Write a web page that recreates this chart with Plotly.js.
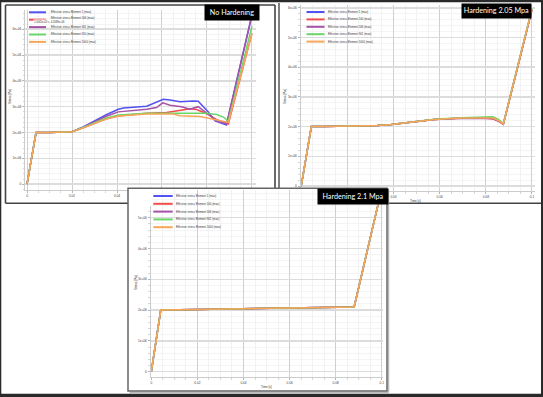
<!DOCTYPE html>
<html><head><meta charset="utf-8">
<script src="https://cdn.plot.ly/plotly-3.0.1.min.js"></script>
<style>html,body{margin:0;padding:0;background:#fff;overflow:hidden}#chart{width:543px;height:397px}</style>
</head><body><div id="chart"></div>
<script>
// ---------------- data ----------------
const panelTitles = ['No Hardening', 'Hardening 2.05 Mpa', 'Hardening 2.1 Mpa'];
const legendNames1 = ['Effective stress Element 1 (max)', 'Effective stress Element 506 (max)', 'Effective stress Element 901 (max)', 'Effective stress Element 910 (max)', 'Effective stress Element 1000 (max)'];
const legendNames23 = ['Effective stress Element 1 (max)', 'Effective stress Element 100 (max)', 'Effective stress Element 506 (max)', 'Effective stress Element 901 (max)', 'Effective stress Element 1000 (max)'];
const seriesColors = ['#5252f2', '#f24c4c', '#a552a8', '#6ad66a', '#f8a657'];

const timeTickVals = [0, 0.02, 0.04, 0.06, 0.08, 0.1];
const timeTickText = ['0', '0.02', '0.04', '0.06', '0.08', '0.1'];
// labels that stay visible where the panels overlap
const timeTickText1 = ['0', '0.02', '0.04', '', '', ''];
const timeTickText2 = ['', '', '0.04', '0.06', '0.08', '0.1'];
const stressTickVals = [0, 1e6, 2e6, 3e6, 4e6, 5e6, 6e6];
const stressTickText = ['0', '1e+06', '2e+06', '3e+06', '4e+06', '5e+06', '6e+06'];

// No hardening
const nhTimeE1 = [0, 0.004, 0.01, 0.02, 0.025, 0.03, 0.035, 0.0406, 0.0429, 0.0532, 0.0561, 0.0606, 0.0636, 0.068, 0.0739, 0.0761, 0.0806, 0.0836, 0.0887, 0.1];
const nhStressE1 = [0, 2.0e6, 2.0e6, 2.03e6, 2.22e6, 2.45e6, 2.68e6, 2.9e6, 2.95e6, 3.02e6, 3.13e6, 3.29e6, 3.26e6, 3.19e6, 3.22e6, 3.21e6, 2.8e6, 2.45e6, 2.29e6, 6.55e6];
const nhTimeE506 = [0, 0.004, 0.01, 0.02, 0.025, 0.03, 0.035, 0.0406, 0.0532, 0.0621, 0.068, 0.0724, 0.0754, 0.0806, 0.0843, 0.0895, 0.1];
const nhStressE506 = [0, 2.0e6, 2.0e6, 2.03e6, 2.18e6, 2.35e6, 2.52e6, 2.64e6, 2.75e6, 2.78e6, 2.86e6, 2.92e6, 2.89e6, 2.7e6, 2.5e6, 2.33e6, 5.84e6];
const nhTimeE901 = [0, 0.004, 0.01, 0.02, 0.025, 0.03, 0.035, 0.0406, 0.0532, 0.0576, 0.0603, 0.0636, 0.0687, 0.0724, 0.0761, 0.0806, 0.0843, 0.0887, 0.1];
const nhStressE901 = [0, 2.0e6, 2.0e6, 2.03e6, 2.21e6, 2.42e6, 2.62e6, 2.8e6, 2.9e6, 2.97e6, 3.15e6, 3.06e6, 3.0e6, 2.9e6, 3.0e6, 2.7e6, 2.45e6, 2.33e6, 6.55e6];
const nhTimeE910 = [0, 0.004, 0.01, 0.02, 0.025, 0.03, 0.035, 0.0406, 0.0532, 0.0621, 0.0799, 0.0843, 0.0873, 0.0895, 0.1];
const nhStressE910 = [0, 2.0e6, 2.0e6, 2.03e6, 2.2e6, 2.38e6, 2.55e6, 2.68e6, 2.75e6, 2.75e6, 2.75e6, 2.7e6, 2.6e6, 2.44e6, 6.12e6];
const nhTimeE1000 = [0, 0.004, 0.01, 0.02, 0.025, 0.03, 0.035, 0.0406, 0.0532, 0.065, 0.068, 0.0769, 0.0828, 0.0895, 0.1];
const nhStressE1000 = [0, 2.0e6, 2.0e6, 2.03e6, 2.18e6, 2.35e6, 2.52e6, 2.64e6, 2.72e6, 2.72e6, 2.65e6, 2.62e6, 2.52e6, 2.39e6, 5.84e6];

// Hardening 2.05 MPa
const h205Time = [0, 0.0044, 0.01, 0.02, 0.027, 0.033, 0.039, 0.044, 0.049, 0.0577, 0.0692, 0.0793, 0.083, 0.0855, 0.0876, 0.1];
const h205StressE1 = [0, 2.0e6, 2.0e6, 2.01e6, 2.02e6, 2.04e6, 2.07e6, 2.12e6, 2.17e6, 2.24e6, 2.29e6, 2.30e6, 2.29e6, 2.21e6, 2.09e6, 5.95e6];
const h205StressE100 = [0, 2.0e6, 2.0e6, 2.01e6, 2.02e6, 2.04e6, 2.07e6, 2.12e6, 2.17e6, 2.24e6, 2.28e6, 2.29e6, 2.26e6, 2.18e6, 2.08e6, 5.93e6];
const h205StressE506 = [0, 2.0e6, 2.0e6, 2.01e6, 2.02e6, 2.04e6, 2.07e6, 2.12e6, 2.17e6, 2.24e6, 2.28e6, 2.29e6, 2.27e6, 2.19e6, 2.08e6, 5.93e6];
const h205StressE901 = [0, 2.0e6, 2.0e6, 2.01e6, 2.02e6, 2.04e6, 2.07e6, 2.12e6, 2.17e6, 2.25e6, 2.30e6, 2.32e6, 2.33e6, 2.24e6, 2.10e6, 5.98e6];
const h205StressE1000 = [0, 2.0e6, 2.0e6, 2.01e6, 2.02e6, 2.04e6, 2.07e6, 2.12e6, 2.17e6, 2.24e6, 2.29e6, 2.30e6, 2.29e6, 2.20e6, 2.09e6, 5.95e6];

// Hardening 2.1 MPa
const h21Time = [0, 0.0041, 0.02, 0.04, 0.06, 0.08, 0.088, 0.1];
const h21StressE1 = [0, 2.0e6, 2.02e6, 2.04e6, 2.06e6, 2.08e6, 2.1e6, 5.95e6];
const h21StressE100 = [0, 2.0e6, 2.02e6, 2.04e6, 2.06e6, 2.08e6, 2.1e6, 5.95e6];
const h21StressE506 = [0, 2.0e6, 2.02e6, 2.04e6, 2.06e6, 2.08e6, 2.1e6, 5.95e6];
const h21StressE901 = [0, 2.0e6, 2.02e6, 2.04e6, 2.06e6, 2.08e6, 2.1e6, 5.95e6];
const h21StressE1000 = [0, 2.0e6, 2.02e6, 2.04e6, 2.06e6, 2.08e6, 2.1e6, 5.95e6];

// ---------------- layout helpers ----------------
const W = 543, H = 397;
const P = x => x / W, Q = y => 1 - y / H;
const FONT = 'Liberation Sans, Arial, sans-serif';

function timeAxis(px0, px1, r, anchor, labels) {
  return {
    domain: [P(px0), P(px1)], range: r, anchor: anchor,
    tickmode: 'array', tickvals: timeTickVals, ticktext: labels,
    ticks: 'outside', ticklen: 2, tickwidth: 0.8, tickcolor: '#aaaaaa',
    showline: true, linecolor: '#cccccc', linewidth: 1,
    showgrid: true, gridcolor: '#d0d0d0', gridwidth: 1, zeroline: false,
    tickfont: {family: FONT, size: 3.2, color: '#444'},
    minor: {dtick: 0.005, tick0: 0, ticks: 'outside', ticklen: 1.5, tickwidth: 0.6, tickcolor: '#bbbbbb',
            showgrid: true, gridcolor: '#ededed', gridwidth: 0.7},
    fixedrange: true
  };
}
function stressAxis(pyTop, pyBottom, r, anchor) {
  return {
    domain: [Q(pyBottom), Q(pyTop)], range: r, anchor: anchor,
    tickmode: 'array', tickvals: stressTickVals, ticktext: stressTickText,
    ticks: 'outside', ticklen: 2, tickwidth: 0.8, tickcolor: '#aaaaaa',
    showline: true, linecolor: '#cccccc', linewidth: 1,
    showgrid: true, gridcolor: '#dcdcdc', gridwidth: 1.5, zeroline: false,
    tickfont: {family: FONT, size: 3.2, color: '#444'},
    minor: {dtick: 2e5, tick0: 0, ticks: 'outside', ticklen: 1.5, tickwidth: 0.6, tickcolor: '#bbbbbb',
            showgrid: true, gridcolor: '#efefef', gridwidth: 0.7},
    fixedrange: true
  };
}

function line(x, y, i, xa, ya, name) {
  return {type: 'scatter', mode: 'lines', x: x, y: y, xaxis: xa, yaxis: ya, name: name,
          line: {color: seriesColors[i], width: 1.5}, hoverinfo: 'skip', showlegend: false};
}

const traces = [
  line(nhTimeE1, nhStressE1, 0, 'x', 'y', legendNames1[0]),
  line(nhTimeE506, nhStressE506, 1, 'x', 'y', legendNames1[1]),
  line(nhTimeE901, nhStressE901, 2, 'x', 'y', legendNames1[2]),
  line(nhTimeE910, nhStressE910, 3, 'x', 'y', legendNames1[3]),
  line(nhTimeE1000, nhStressE1000, 4, 'x', 'y', legendNames1[4]),
  line(h205Time, h205StressE1, 0, 'x2', 'y2', legendNames23[0]),
  line(h205Time, h205StressE100, 1, 'x2', 'y2', legendNames23[1]),
  line(h205Time, h205StressE506, 2, 'x2', 'y2', legendNames23[2]),
  line(h205Time, h205StressE901, 3, 'x2', 'y2', legendNames23[3]),
  line(h205Time, h205StressE1000, 4, 'x2', 'y2', legendNames23[4]),
  line(h21Time, h21StressE1, 0, 'x3', 'y3', legendNames23[0]),
  line(h21Time, h21StressE100, 1, 'x3', 'y3', legendNames23[1]),
  line(h21Time, h21StressE506, 2, 'x3', 'y3', legendNames23[2]),
  line(h21Time, h21StressE901, 3, 'x3', 'y3', legendNames23[3]),
  line(h21Time, h21StressE1000, 4, 'x3', 'y3', legendNames23[4])
];

// ---------------- shapes & annotations ----------------
const shapes = [], annotations = [];
function seg(x0, y0, x1, y1, color, w) {
  shapes.push({type: 'line', xref: 'paper', yref: 'paper', layer: 'above',
    x0: P(x0), y0: Q(y0), x1: P(x1), y1: Q(y1), line: {color: color, width: w}});
}
function box(x0, y0, x1, y1, fill) {
  shapes.push({type: 'rect', xref: 'paper', yref: 'paper', layer: 'above',
    x0: P(x0), y0: Q(y0), x1: P(x1), y1: Q(y1), fillcolor: fill, line: {width: 0}});
}
function text(x, y, t, size, opts) {
  annotations.push(Object.assign({xref: 'paper', yref: 'paper', x: P(x), y: Q(y), text: t, showarrow: false,
    xanchor: 'left', yanchor: 'middle', font: {family: FONT, size: size, color: '#333'}}, opts || {}));
}
function legend(names, lx0, lx1, tx, y0, step, textShift) {
  names.forEach((n, i) => {
    seg(lx0, y0 + i * step, lx1, y0 + i * step, seriesColors[i], 2);
    text(tx, y0 + i * step + ((textShift && textShift[i]) || 0), n, 2.8);
  });
}

// white cover for panel 3 margins where they overlap panels 1 & 2
box(128, 188, 151, 206, '#ffffff');
box(128, 188, 387, 189.3, '#ffffff');
box(383, 188, 388, 206, '#ffffff');

// panel 1 frame (visible parts)
seg(5.5, 5, 275, 5, '#444', 1.6);
seg(5.5, 5, 5.5, 203.3, '#444', 1.6);
seg(275, 5, 275, 188, '#444', 1.6);
seg(5.5, 203.3, 128, 203.3, '#444', 1.6);
// panel 2 frame (visible parts)
seg(279, 3, 279, 188, '#555', 1.5);
seg(388, 203.3, 541, 203.3, '#444', 1.6);
// panel 3 frame with shadow
seg(129.5, 392.5, 388.5, 392.5, '#bbbbbb', 1.5);
seg(388.5, 189.5, 388.5, 392.5, '#bbbbbb', 1.5);
shapes.push({type: 'rect', xref: 'paper', yref: 'paper', layer: 'above',
  x0: P(128), y0: Q(188.3), x1: P(387), y1: Q(391), line: {color: '#666', width: 1.5}});

// legends
legend(legendNames1, 29, 46, 49, 12.3, 7.4, [0, -1.9, 0, 0, 0]);
legend(legendNames23, 306.5, 324.5, 326, 12, 7.4);
legend(legendNames23, 153.3, 172.7, 174, 196, 7.8);
// tooltip left on panel 1 (covers the red legend line, as in the screenshot)
text(33, 21.9, '2.0061e-03 s, 4.2089e+06', 2.6, {bgcolor: '#ffffff', borderpad: 0.1});

// image border
box(0, 0, 543, 2.2, '#2a2a2a');
box(0, 0, 1.3, 397, '#2a2a2a');
box(541, 0, 543, 397, '#2a2a2a');
box(0, 393.8, 543, 397, '#2a2a2a');

// axis titles
text(10, 97, 'Stress [Pa]', 3, {xanchor: 'center', textangle: -90});
text(285, 97, 'Stress [Pa]', 3, {xanchor: 'center', textangle: -90});
text(136, 283, 'Stress [Pa]', 3, {xanchor: 'center', textangle: -90});
text(415, 200.5, 'Time [s]', 3, {xanchor: 'center'});
text(266.7, 387.3, 'Time [s]', 3, {xanchor: 'center'});

// title boxes
function titleBox(x0, y0, w, h, t) {
  annotations.push({xref: 'paper', yref: 'paper', x: P(x0), y: Q(y0), xanchor: 'left', yanchor: 'top',
    width: w, height: h, text: t, showarrow: false, bgcolor: '#000000', borderpad: 0, align: 'center',
    font: {family: 'Lato, Open Sans, sans-serif', size: 7.2, color: '#ffffff'}});
}
titleBox(204, 4.2, 54, 15, panelTitles[0]);
titleBox(461, 3.3, 69, 13.5, panelTitles[1]);
titleBox(316.7, 188.3, 70, 15, panelTitles[2]);

const layout = {
  width: W, height: H, margin: {l: 0, r: 0, t: 0, b: 0, pad: 0},
  paper_bgcolor: '#ffffff', plot_bgcolor: '#ffffff', showlegend: false,
  xaxis: timeAxis(25, 256, [-0.0009, 0.1018], 'y', timeTickText1),
  yaxis: stressAxis(10, 190.2, [-0.2326e6, 6.744e6], 'x'),
  xaxis2: timeAxis(300.5, 534.5, [-0.0003, 0.1011], 'y2', timeTickText2),
  yaxis2: stressAxis(4.5, 191, [-0.168e6, 6.111e6], 'x2'),
  xaxis3: timeAxis(150.5, 383, [-0.00035, 0.10052], 'y3', timeTickText),
  yaxis3: stressAxis(189.5, 377, [-0.172e6, 5.916e6], 'x3'),
  shapes: shapes, annotations: annotations
};

Plotly.newPlot('chart', traces, layout, {staticPlot: true, displayModeBar: false});
</script>
</body></html>
